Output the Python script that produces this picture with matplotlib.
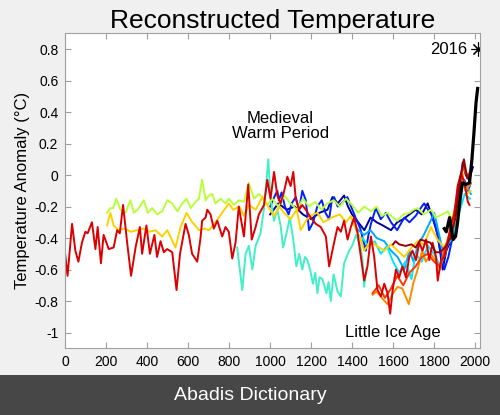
#!/usr/bin/env python3
"""Reconstructed temperature: multi-proxy reconstructions plus instrumental record."""

import matplotlib
matplotlib.use("Agg")
import matplotlib.pyplot as plt
from matplotlib.patches import Rectangle

plt.rcParams["font.family"] = ["Liberation Sans", "DejaVu Sans"]

# --- data (year, anomaly in degC) ---
dkblue_years = [1000, 1040, 1080, 1120, 1160, 1200, 1240, 1280, 1304, 1330, 1361, 1380, 1400,
                1430, 1460, 1490, 1520, 1550, 1590, 1620, 1650, 1680, 1710, 1740, 1769, 1790,
                1818, 1842, 1860, 1880, 1900, 1920, 1940, 1955, 1970, 1990]
dkblue_vals = [-0.25, -0.18, -0.22, -0.20, -0.25, -0.28, -0.24, -0.22, -0.14, -0.18, -0.13, -0.20,
               -0.25, -0.30, -0.35, -0.27, -0.30, -0.32, -0.35, -0.30, -0.28, -0.25, -0.22, -0.25,
               -0.18, -0.26, -0.38, -0.60, -0.48, -0.42, -0.30, -0.15, 0.08, 0.00, -0.03, 0.05]

blue_years = [1000, 1020, 1035, 1043, 1056, 1072, 1090, 1105, 1125, 1141, 1157, 1174, 1190, 1210,
              1230, 1252, 1270, 1288, 1300, 1312, 1330, 1350, 1377, 1395, 1420, 1440, 1467, 1480,
              1492, 1516, 1540, 1565, 1590, 1620, 1655, 1680, 1710, 1740, 1752, 1770, 1790, 1809,
              1834, 1850, 1870, 1883, 1900, 1915, 1930, 1948, 1965, 1980]
blue_vals = [-0.20, -0.14, -0.10, -0.16, -0.11, -0.20, -0.25, -0.18, -0.14, -0.22, -0.10, -0.16,
             -0.35, -0.30, -0.20, -0.16, -0.24, -0.28, -0.17, -0.14, -0.20, -0.18, -0.14, -0.20,
             -0.28, -0.34, -0.48, -0.38, -0.31, -0.21, -0.28, -0.24, -0.30, -0.35, -0.27, -0.30,
             -0.26, -0.20, -0.18, -0.22, -0.25, -0.33, -0.50, -0.60, -0.52, -0.44, -0.35, -0.23,
             -0.10, -0.03, -0.10, -0.05]

skyblue_years = [1400, 1430, 1459, 1490, 1520, 1557, 1590, 1622, 1655, 1680, 1700, 1720, 1750,
                 1780, 1801, 1820, 1850, 1870, 1890, 1920, 1940, 1960, 1980]
skyblue_vals = [-0.30, -0.35, -0.38, -0.35, -0.40, -0.42, -0.48, -0.52, -0.60, -0.48, -0.55,
                -0.45, -0.38, -0.30, -0.24, -0.35, -0.52, -0.42, -0.30, -0.15, -0.05, -0.08, -0.12]

cyan_years = [1450, 1480, 1510, 1540, 1570, 1600, 1630, 1660, 1690, 1710, 1740, 1770, 1800,
              1830, 1860, 1890, 1920, 1950, 1975]
cyan_vals = [-0.40, -0.45, -0.42, -0.50, -0.45, -0.55, -0.62, -0.55, -0.66, -0.50, -0.55, -0.45,
             -0.50, -0.58, -0.45, -0.40, -0.25, -0.12, -0.15]

turq_years = [839, 864, 880, 896, 913, 929, 953, 970, 991, 1002, 1019, 1035, 1051, 1063, 1080,
              1096, 1113, 1128, 1142, 1157, 1170, 1182, 1195, 1209, 1220, 1231, 1241, 1255, 1275,
              1285, 1296, 1310, 1329, 1345, 1361, 1386, 1400, 1420, 1440, 1451, 1459, 1470]
turq_vals = [-0.46, -0.73, -0.50, -0.45, -0.60, -0.45, -0.37, -0.21, 0.10, -0.15, -0.29, -0.22,
             -0.32, -0.46, -0.37, -0.27, -0.41, -0.58, -0.50, -0.60, -0.52, -0.54, -0.60, -0.69,
             -0.62, -0.75, -0.65, -0.66, -0.75, -0.68, -0.80, -0.63, -0.74, -0.77, -0.56, -0.48,
             -0.45, -0.38, -0.45, -0.54, -0.71, -0.60]

ygreen_years = [204, 220, 233, 249, 269, 294, 318, 335, 359, 383, 403, 424, 449, 473, 498, 522,
                547, 571, 592, 612, 636, 652, 668, 685, 701, 717, 733, 758, 782, 798, 823, 847,
                872, 896, 921, 945, 962, 986, 1010, 1040, 1070, 1100, 1130, 1160, 1190, 1220,
                1250, 1280, 1310, 1340, 1370, 1400, 1430, 1459, 1492, 1520, 1545, 1573, 1600,
                1622, 1650, 1680, 1700, 1720, 1750, 1785, 1810, 1840, 1867, 1885, 1900]
ygreen_vals = [-0.24, -0.21, -0.21, -0.15, -0.22, -0.24, -0.16, -0.24, -0.21, -0.16, -0.24,
               -0.21, -0.25, -0.23, -0.16, -0.18, -0.23, -0.18, -0.15, -0.21, -0.17, -0.15,
               -0.03, -0.16, -0.13, -0.12, -0.18, -0.15, -0.18, -0.15, -0.19, -0.16, -0.17,
               -0.05, -0.15, -0.12, -0.14, -0.19, -0.15, -0.20, -0.13, -0.18, -0.22, -0.15,
               -0.20, -0.17, -0.22, -0.18, -0.16, -0.20, -0.15, -0.19, -0.24, -0.20, -0.23,
               -0.20, -0.26, -0.24, -0.27, -0.29, -0.25, -0.24, -0.22, -0.21, -0.25, -0.22,
               -0.27, -0.25, -0.23, -0.28, -0.22]

gold_years = [204, 220, 236, 260, 290, 320, 350, 380, 410, 440, 473, 498, 538, 563, 592, 620,
              653, 680, 701, 733, 760, 798, 820, 850, 872, 896, 930, 962, 990, 1020, 1045, 1068,
              1100, 1130, 1149, 1180, 1210, 1231, 1260, 1300, 1340, 1370, 1394, 1420, 1440, 1459,
              1490, 1520, 1557, 1590, 1622, 1655, 1690, 1720, 1752, 1785, 1817, 1850, 1880, 1915,
              1940, 1960, 1980]
gold_vals = [-0.32, -0.24, -0.32, -0.35, -0.34, -0.36, -0.35, -0.34, -0.36, -0.35, -0.39, -0.35,
             -0.46, -0.33, -0.24, -0.30, -0.35, -0.34, -0.35, -0.30, -0.25, -0.18, -0.22, -0.20,
             -0.26, -0.19, -0.22, -0.14, -0.20, -0.26, -0.20, -0.24, -0.28, -0.22, -0.35, -0.28,
             -0.25, -0.24, -0.30, -0.27, -0.25, -0.30, -0.26, -0.35, -0.40, -0.48, -0.42, -0.45,
             -0.48, -0.44, -0.48, -0.52, -0.46, -0.42, -0.44, -0.33, -0.41, -0.46, -0.38, -0.25,
             -0.05, -0.12, -0.10]

orange_years = [1500, 1520, 1545, 1573, 1600, 1622, 1645, 1677, 1700, 1720, 1742, 1760, 1785,
                1810, 1830, 1850, 1870, 1890, 1910, 1937, 1955, 1980]
orange_vals = [-0.76, -0.74, -0.78, -0.82, -0.75, -0.71, -0.72, -0.82, -0.68, -0.60, -0.48,
               -0.55, -0.50, -0.55, -0.60, -0.46, -0.42, -0.30, -0.15, 0.02, -0.10, -0.05]

ored_years = [1500, 1530, 1560, 1590, 1620, 1650, 1680, 1710, 1740, 1770, 1800, 1830, 1860,
              1890, 1920, 1940, 1960, 1980]
ored_vals = [-0.75, -0.70, -0.78, -0.72, -0.64, -0.70, -0.62, -0.58, -0.52, -0.50, -0.55, -0.58,
             -0.44, -0.30, -0.10, 0.05, 0.00, 0.02]

red_years = [0, 11, 33, 49, 64, 81, 98, 109, 130, 147, 158, 174, 187, 212, 236, 253, 266, 282,
             302, 321, 343, 364, 375, 396, 413, 435, 448, 465, 481, 497, 522, 543, 560, 587, 603,
             619, 644, 660, 668, 685, 693, 709, 725, 742, 766, 782, 798, 815, 831, 847, 872, 893,
             910, 929, 945, 970, 986, 1002, 1019, 1035, 1051, 1067, 1084, 1100, 1113, 1125, 1141,
             1157, 1174, 1198, 1223, 1247, 1272, 1288, 1312, 1329, 1345, 1361, 1378, 1394, 1410,
             1427, 1443, 1459, 1475, 1492, 1508, 1524, 1541, 1557, 1573, 1586, 1598, 1614, 1630,
             1646, 1663, 1679, 1695, 1712, 1728, 1744, 1761, 1777, 1793, 1810, 1818, 1834, 1850,
             1867, 1883, 1899, 1915, 1932, 1948, 1965, 1973]
red_vals = [-0.51, -0.64, -0.31, -0.48, -0.55, -0.43, -0.36, -0.37, -0.30, -0.47, -0.33, -0.56,
            -0.38, -0.47, -0.46, -0.35, -0.37, -0.19, -0.43, -0.64, -0.46, -0.33, -0.50, -0.32,
            -0.50, -0.38, -0.52, -0.42, -0.49, -0.47, -0.49, -0.73, -0.50, -0.31, -0.38, -0.50,
            -0.55, -0.40, -0.29, -0.27, -0.22, -0.25, -0.34, -0.29, -0.39, -0.33, -0.36, -0.53,
            -0.43, -0.20, -0.39, -0.06, -0.41, -0.33, -0.25, -0.19, -0.03, -0.15, 0.02, -0.13,
            -0.18, -0.11, -0.01, -0.07, 0.02, -0.15, -0.22, -0.19, -0.22, -0.27, -0.31, -0.33,
            -0.39, -0.58, -0.43, -0.33, -0.36, -0.29, -0.41, -0.33, -0.27, -0.37, -0.52, -0.67,
            -0.58, -0.39, -0.52, -0.73, -0.77, -0.69, -0.75, -0.88, -0.73, -0.60, -0.65, -0.58,
            -0.65, -0.52, -0.48, -0.54, -0.43, -0.48, -0.41, -0.54, -0.43, -0.52, -0.67, -0.54,
            -0.52, -0.43, -0.31, -0.25, -0.07, 0.01, -0.05, -0.17, -0.19]

dkred_years = [1600, 1612, 1630, 1661, 1690, 1710, 1734, 1760, 1783, 1807, 1830, 1860, 1880,
               1905, 1929, 1946, 1962, 1978]
dkred_vals = [-0.44, -0.42, -0.44, -0.45, -0.44, -0.46, -0.41, -0.42, -0.43, -0.49, -0.49,
              -0.45, -0.40, -0.27, -0.01, 0.10, -0.02, 0.01]

instr_years = [1850, 1860, 1876, 1893, 1905, 1915, 1925, 1938, 1954, 1973, 1985, 1995, 2005, 2013]
instr_vals = [-0.34, -0.36, -0.27, -0.41, -0.39, -0.30, -0.18, -0.05, -0.06, -0.05, 0.10, 0.27,
              0.46, 0.55]

mark_year = 2016
mark_val = 0.8

x_ticks = [0, 200, 400, 600, 800, 1000, 1200, 1400, 1600, 1800, 2000]
y_ticks = [-1, -0.8, -0.6, -0.4, -0.2, 0, 0.2, 0.4, 0.6, 0.8]
y_tick_labels = ["-1", "-0.8", "-0.6", "-0.4", "-0.2", "0", "0.2", "0.4", "0.6", "0.8"]

series = [
    (dkblue_years, dkblue_vals, "#00009a"),
    (blue_years, blue_vals, "#0020ff"),
    (skyblue_years, skyblue_vals, "#00a8ff"),
    (cyan_years, cyan_vals, "#00e8ff"),
    (turq_years, turq_vals, "#40f0c8"),
    (ygreen_years, ygreen_vals, "#b8ff3a"),
    (gold_years, gold_vals, "#ffd000"),
    (orange_years, orange_vals, "#ff8a00"),
    (ored_years, ored_vals, "#ff3800"),
    (red_years, red_vals, "#dd0000"),
    (dkred_years, dkred_vals, "#9a0000"),
]

fig = plt.figure(figsize=(5.0, 4.15), dpi=100, facecolor="#f0f0f0")
ax = fig.add_axes([0.1306, 0.1607, 0.8284, 0.7591])
ax.set_facecolor("white")

for yrs, vals, col in series:
    ax.plot(yrs, vals, color=col, lw=1.4)
ax.plot(instr_years, instr_vals, color="black", lw=2.3)

ax.plot([mark_year], [mark_val], marker=(8, 2, 0), color="black", ms=10, mew=0.8)
ax.annotate("2016", (mark_year, mark_val), xytext=(-8, 0), textcoords="offset points",
            ha="right", va="center", fontsize=12)

ax.text(1049, 0.31, "Medieval\nWarm Period", ha="center", va="center", fontsize=12,
        linespacing=1.0)
ax.text(1600, -1.0, "Little Ice Age", ha="center", va="center", fontsize=12)

ax.set_xlim(0, 2022)
ax.set_ylim(-1.1, 0.9)
ax.set_xticks(x_ticks)
ax.set_xticklabels([str(t) for t in x_ticks])
ax.set_yticks(y_ticks)
ax.set_yticklabels(y_tick_labels)
ax.tick_params(direction="in", top=True, right=True, length=4, width=0.8,
               color="#a0a0a0", labelsize=10, pad=5)
for sp in ax.spines.values():
    sp.set_color("#a0a0a0")
    sp.set_linewidth(0.8)

ax.set_ylabel("Temperature Anomaly (°C)", fontsize=12, labelpad=3)
ax.set_title("Reconstructed Temperature", fontsize=19, pad=4)

# caption banner along the bottom
fig.patches.append(Rectangle((0, 0), 1, 40 / 415, transform=fig.transFigure,
                             facecolor="#474747", edgecolor="none", zorder=0))
fig.text(0.5, 20 / 415, "Abadis Dictionary", ha="center", va="center", color="white",
         fontsize=14)

fig.savefig("out.png", dpi=100, facecolor=fig.get_facecolor())
plt.close(fig)
